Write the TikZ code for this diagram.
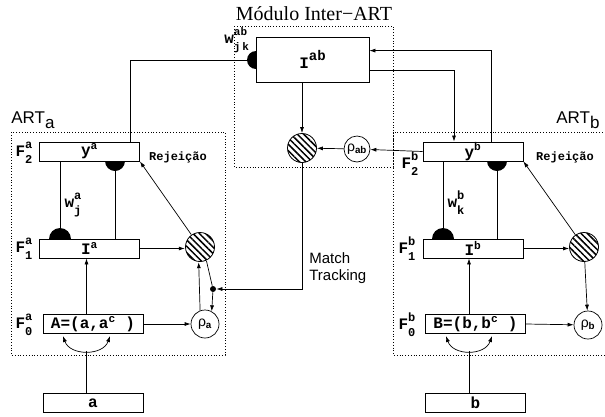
\documentclass[tikz,border=0pt]{standalone}
\usepackage{amsmath}
\usepackage{fontspec}
\setmainfont{Liberation Serif}
\setsansfont{Liberation Sans}
\setmonofont{Liberation Mono}
\usetikzlibrary{arrows.meta,calc,backgrounds,patterns.meta}
\tikzset{
  artarr/.style={-{Latex[length=6pt,width=4pt]}, line width=0.7pt},
  layerbox/.style={draw, fill=white, line width=0.8pt, minimum width=100pt, minimum height=19pt, inner sep=0pt, font=\fontsize{16}{16}\selectfont\ttfamily\bfseries},
  modframe/.style={draw, dotted, line width=0.8pt},
}
% letter with stacked super- and subscript
\newcommand{\supsub}[3]{#1\rlap{\raisebox{.5em}{\fontsize{12}{12}\selectfont #2}}\raisebox{-.45em}{\fontsize{12}{12}\selectfont #3}}

\begin{document}
\begin{tikzpicture}[
  x=1pt, y=-1pt, line width=0.7pt,
  resetnode/.style={circle, draw, line width=0.8pt, minimum size=29pt, inner sep=0pt, pattern={Lines[angle=-45,distance=4.5pt,line width=1.5pt]}},
  vignode/.style={circle, draw, fill=white, minimum size=28pt, inner sep=0pt, font=\fontsize{14}{14}\selectfont\sffamily},
  flab/.style={font=\fontsize{16}{16}\selectfont\ttfamily\bfseries, inner sep=0pt},
  rejlab/.style={font=\fontsize{12}{12}\selectfont\ttfamily\bfseries, inner sep=0pt},
  artlab/.style={font=\fontsize{17}{17}\selectfont\sffamily, anchor=base west, inner sep=0pt},
]
  \useasboundingbox (0,0) rectangle (605,416);
  % frames
  \draw[modframe] (11,132) rectangle (225,355);
  \draw[modframe] (234,26) rectangle (393,167);
  \draw[modframe] (393,132) rectangle (615,355);
  \node[artlab] (arta) at (11,123) {ART\raisebox{-.35em}{a}};
  \node[artlab] (artb) at (556,123) {ART\raisebox{-.35em}{b}};
  \node[font=\fontsize{20}{20}\selectfont, anchor=base, inner sep=0pt] (title) at (314,20) {Módulo Inter−ART};

  % ART a
  \node[layerbox] (ya) at (89.5,151.5) {y\textsuperscript{a}};
  \node[layerbox] (ia) at (89.5,248.5) {I\textsuperscript{a}};
  \node[layerbox] (aa) at (93,324) {A=(a,a\textsuperscript{c} )};
  \node[layerbox] (xa) at (93,403) {a};
  \node[resetnode] (ra) at (200,247) {};
  \node[vignode] (pa) at (205,324) {ρ\textsubscript{\textbf{a}}};
  \node[circle, fill, inner sep=0pt, minimum size=6pt] (mt) at (213,289) {};
  \node[flab] (f2a) at (24,153) {\supsub{F}{a}{2}};
  \node[flab] (f1a) at (24,249) {\supsub{F}{a}{1}};
  \node[flab] (f0a) at (24,325) {\supsub{F}{a}{0}};
  \node[flab] (wa) at (73,205) {\supsub{w}{a}{j}};
  \node[rejlab] (rja) at (178,157) {Rejeição};
  \coordinate (wja) at (60,239);
  \coordinate (rsa) at (115,161);
  \coordinate (ina) at (86.5,351);

  % Inter-ART
  \node[layerbox, minimum width=113pt, minimum height=45pt] (iab) at (312.5,59.5) {I\raisebox{.55em}{\fontsize{14}{14}\selectfont ab}};
  \node[resetnode] (rab) at (302,148) {};
  \node[vignode, minimum size=26pt] (pab) at (357,149) {ρ\textsubscript{\textbf{ab}}};
  \node[flab, anchor=west] (wab) at (224,40) {w\rlap{\raisebox{.5em}{\fontsize{11}{11}\selectfont ab}}\raisebox{-.4em}{\fontsize{11}{11}\selectfont j\,k}};
  \node[font=\fontsize{15}{17}\selectfont\sffamily, align=left, anchor=west, inner sep=0pt] (mtl) at (309,268) {Match\\Tracking};
  \coordinate (sab) at (256,60);

  % ART b
  \node[layerbox] (yb) at (473,151.5) {y\textsuperscript{b}};
  \node[layerbox] (ib) at (473,248.5) {I\textsuperscript{b}};
  \node[layerbox] (bb) at (475.5,324) {B=(b,b\textsuperscript{c} )};
  \node[layerbox] (xb) at (475.5,403) {b};
  \node[resetnode] (rb) at (584,247) {};
  \node[vignode] (pb) at (588,325) {ρ\textsubscript{\textbf{b}}};
  \node[flab] (f2b) at (410,164) {\supsub{F}{b}{2}};
  \node[flab] (f1b) at (407,249) {\supsub{F}{b}{1}};
  \node[flab] (f0b) at (407,325) {\supsub{F}{b}{0}};
  \node[flab] (wb) at (456,203) {\supsub{w}{b}{k}};
  \node[rejlab] (rjb) at (565,157) {Rejeição};
  \coordinate (wkb) at (443,239);
  \coordinate (rsb) at (497,161);
  \coordinate (inb) at (469,351);

  % half-disc synapses, boxes hide the other half
  \begin{scope}[on background layer]
    \fill (wja) circle[radius=11pt];
    \fill (rsa) circle[radius=10pt];
    \fill (wkb) circle[radius=11pt];
    \fill (rsb) circle[radius=10pt];
    \fill (sab) circle[radius=9pt];
  \end{scope}

  % connections ART a
  \draw (ya.south -| wja) -- ($(wja)+(0,-11)$);
  \draw ($(rsa)+(0,10)$) -- (rsa |- ia.north);
  \draw[artarr] (ia.east) -- (ia.east -| ra.west);
  \draw[artarr] (ra) -- (ya.south east);
  \draw[artarr] (aa.north -| ina) -- (ia.south -| ina);
  \draw[artarr] (aa.east) -- (pa);
  \draw[artarr] (pa.110) -- (ra.265);
  \draw (ra.295) -- (mt);
  \draw[artarr] (mt) -- (pa.62);
  \draw[{Latex[length=6pt,width=4pt]}-{Latex[length=6pt,width=4pt]}] (63,336) .. controls (70,356) and (103,356) .. (110,336);
  \draw (xa.north -| ina) -- (ina);

  % connections to and from Inter-ART
  \draw ($(ya.north)+(40.5,0)$) |- ($(sab)+(-9,0)$);
  \draw[artarr] ($(yb.north)+(18,0)$) |- ($(iab.north east)+(0,14)$);
  \draw[artarr] ($(iab.south east)+(0,-12)$) -| ($(yb.north)+(-19,0)$);
  \draw[artarr] (yb.west) -- (pab);
  \draw[artarr] (pab) -- (rab);
  \draw[artarr] (iab.south -| rab) -- (rab);
  \draw[artarr] (rab) |- (mt);

  % connections ART b
  \draw (yb.south -| wkb) -- ($(wkb)+(0,-11)$);
  \draw ($(rsb)+(0,10)$) -- (rsb |- ib.north);
  \draw[artarr] (ib.east) -- (ib.east -| rb.west);
  \draw[artarr] (rb) -- (yb.south east);
  \draw[artarr] (rb) -- (pb);
  \draw[artarr] (bb.north -| inb) -- (ib.south -| inb);
  \draw[artarr] (bb.east) -- (pb);
  \draw[{Latex[length=6pt,width=4pt]}-{Latex[length=6pt,width=4pt]}] (446,336) .. controls (453,356) and (485,356) .. (492,336);
  \draw (xb.north -| inb) -- (inb);
\end{tikzpicture}
\end{document}
